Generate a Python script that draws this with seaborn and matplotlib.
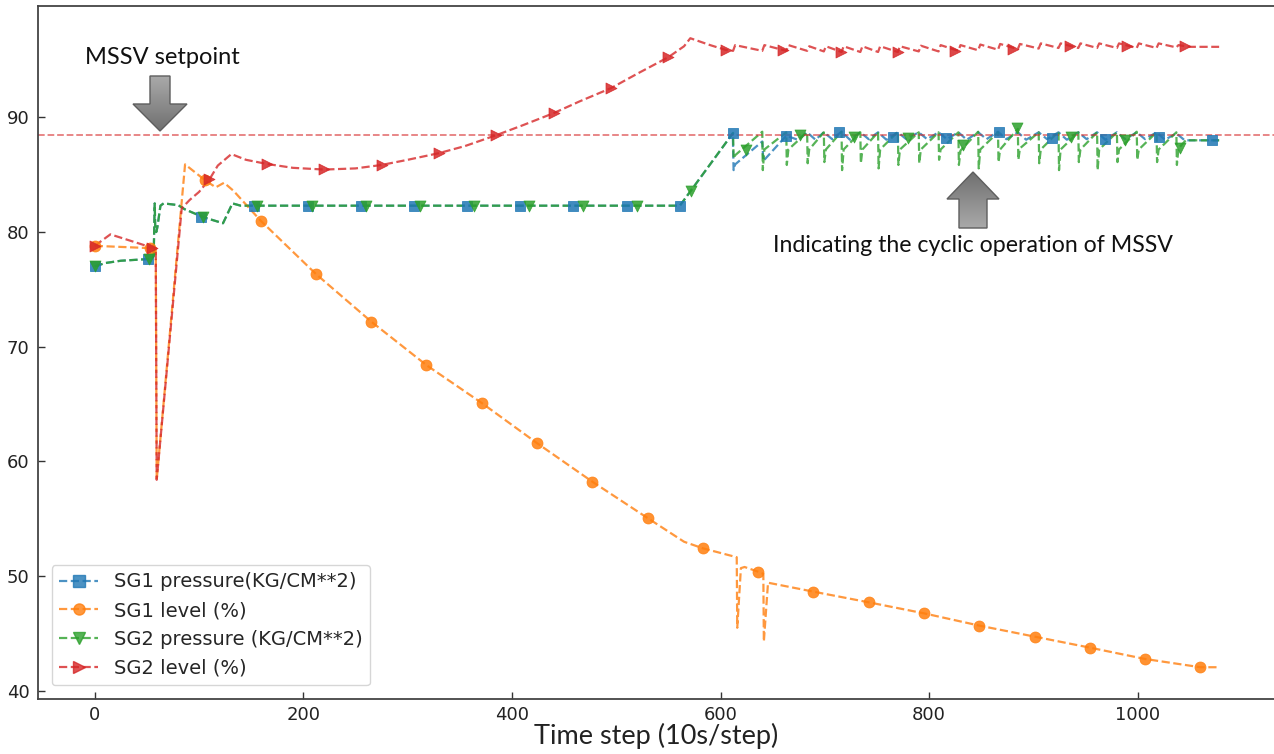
import numpy as np
import pandas as pd
import matplotlib
matplotlib.use("Agg")
import matplotlib.pyplot as plt
from matplotlib.lines import Line2D
from matplotlib.patches import Polygon
import seaborn as sns

# ---------------- data ----------------
# SG1 pressure (blue) line vertices
sg1p_x = [0, 10, 25, 52, 55, 56.5, 57.5, 58, 59, 60, 63, 66, 80, 86, 104, 123, 132, 140, 561,
          611.7, 612.5, 614, 640, 641, 663,
          674, 683, 691, 699, 707, 716, 724, 734, 742, 751, 759, 770, 778, 790, 798, 809, 817,
          828, 836, 847, 855, 866, 874, 885, 893, 905, 913, 924, 932, 943, 951, 961, 969, 980,
          988, 999, 1007, 1018, 1026, 1037, 1045, 1078]
sg1p_y = [77.0, 77.3, 77.5, 77.65, 77.7, 77.9, 82.5, 80.4, 80.0, 80.4, 82.3, 82.5, 82.35, 82.0, 81.3, 80.77, 82.5, 82.3, 82.3,
          88.6, 85.4, 85.9, 87.9, 86.2, 88.4,
          88.05, 88.7, 88.05, 88.7, 88.1, 88.75, 88.05, 88.7, 88.1, 88.7, 88.05, 88.7, 88.1, 88.7, 88.1, 88.7, 88.1,
          88.7, 88.05, 88.7, 88.1, 88.75, 88.1, 88.7, 88.05, 88.7, 88.1, 88.7, 88.05, 88.7, 88.1, 88.7, 88.05, 88.7,
          88.1, 88.7, 88.1, 88.7, 88.05, 88.6, 88.0, 88.0]
sg1p_mx = [0, 51, 102, 153, 204, 255, 306, 357, 408, 459, 510, 561, 612, 663, 714, 765, 816, 867, 918, 969, 1020, 1071]
sg1p_my = [77.0, 77.63, 81.3, 82.3, 82.3, 82.3, 82.3, 82.3, 82.3, 82.3, 82.3, 82.3,
           88.6, 88.4, 88.75, 88.32, 88.17, 88.75, 88.18, 88.1, 88.32, 88.03]

# SG1 level (orange)
sg1l_x = [0, 53, 58.5, 59.4, 86.6, 106, 116, 124, 133, 159, 212, 265, 318, 371, 424, 477, 530, 565, 583,
          615.5, 616, 619.5, 623, 636, 641, 641.5, 645.5, 689, 742, 795, 848, 901, 954, 1007, 1060, 1077]
sg1l_y = [78.8, 78.6, 78.5, 58.4, 85.9, 84.5, 83.9, 84.3, 83.6, 81.0, 76.35, 72.2, 68.4, 65.1, 61.6, 58.24, 55.07, 53.0, 52.43,
          51.65, 45.5, 50.7, 50.8, 50.39, 50.2, 44.3, 49.43, 48.65, 47.72, 46.76, 45.69, 44.73, 43.77, 42.78, 42.06, 42.06]
sg1l_mx = [0, 53, 106, 159, 212, 265, 318, 371, 424, 477, 530, 583, 636, 689, 742, 795, 848, 901, 954, 1007, 1060]
sg1l_my = [78.8, 78.6, 84.5, 81.0, 76.35, 72.2, 68.4, 65.1, 61.6, 58.24, 55.07, 52.43, 50.39, 48.65, 47.72, 46.76,
           45.69, 44.73, 43.77, 42.78, 42.06]

# SG2 pressure (green)
sg2p_x = [0, 10, 25, 52, 55, 56.5, 57.5, 58, 59, 60, 63, 66, 80, 86, 104, 123, 132, 140, 561,
          612, 612.5, 614, 640, 640.5, 642, 663, 663.5, 665, 683, 683.5, 685, 699, 699.5, 701,
          716, 716.5, 718, 734, 734.5, 736, 751, 751.5, 753, 770, 770.5, 772, 790, 790.5, 792,
          809, 809.5, 811, 828, 828.5, 830, 847, 847.5, 849, 866, 866.5, 868, 885, 885.5, 887,
          905, 905.5, 907, 924, 924.5, 926, 943, 943.5, 945, 961, 961.5, 963, 980, 980.5, 982,
          999, 999.5, 1001, 1018, 1018.5, 1020, 1037, 1037.5, 1039, 1046, 1078]
sg2p_y = [77.0, 77.3, 77.5, 77.65, 77.7, 77.9, 82.5, 80.4, 80.0, 80.4, 82.3, 82.5, 82.35, 82.0, 81.3, 80.77, 82.5, 82.3, 82.3,
          88.65, 86.4, 86.7, 88.75, 85.4, 87.2, 88.7, 85.85, 87.2, 88.7, 86.0, 87.2, 88.7, 86.1, 87.2,
          88.75, 85.4, 87.2, 88.7, 86.0, 87.2, 88.7, 85.55, 87.2, 88.75, 85.85, 87.2, 88.7, 86.0, 87.2,
          88.7, 86.3, 87.2, 88.7, 85.85, 87.1, 88.75, 85.55, 87.2, 88.7, 86.1, 87.2, 89.0, 86.3, 87.3,
          88.7, 86.0, 87.2, 88.75, 85.4, 87.2, 88.7, 86.1, 87.2, 88.7, 85.4, 87.2, 88.7, 86.1, 87.2,
          88.75, 86.3, 87.2, 88.7, 86.1, 87.2, 88.7, 85.85, 87.3, 88.0, 88.0]
sg2p_mx = [0, 52, 104, 156, 208, 260, 312, 364, 416, 468, 520, 572, 624, 676, 728, 780, 832, 884, 936, 988, 1040]
sg2p_my = [77.0, 77.65, 81.3, 82.3, 82.3, 82.3, 82.3, 82.3, 82.3, 82.3, 82.3, 83.6, 87.15, 88.5, 88.3, 88.18,
           87.6, 89.05, 88.3, 88.03, 87.3]

# SG2 level (red)
sg2l_x = [0, 15, 55, 58.5, 59.4, 83.4, 91, 100, 110, 118, 131, 145, 165, 190, 220, 250, 275, 300, 330, 355,
          385, 410, 440, 465, 495, 520, 550, 565, 571, 590, 605,
          612, 614, 640, 642, 663, 665, 683, 685, 699, 701, 716, 718, 734, 736, 751, 753, 770, 772,
          790, 792, 809, 811, 828, 830, 847, 849, 866, 868, 885, 887, 905, 907, 924, 926, 943, 945,
          961, 963, 980, 982, 999, 1001, 1018, 1020, 1037, 1039, 1050, 1078]
sg2l_y = [78.8, 79.8, 78.64, 78.6, 58.4, 82.07, 82.8, 83.5, 84.6, 85.8, 86.8, 86.3, 85.94, 85.6, 85.45, 85.55, 85.85, 86.3, 86.88, 87.5,
          88.45, 89.3, 90.37, 91.4, 92.55, 93.8, 95.25, 96.2, 96.9, 96.3, 95.88,
          95.8, 96.3, 95.8, 96.3, 95.8, 96.3, 95.8, 96.2, 95.75, 96.2, 95.7, 96.2, 95.7, 96.2, 95.7, 96.2, 95.7, 96.2,
          95.75, 96.25, 95.75, 96.3, 95.8, 96.3, 95.85, 96.35, 95.9, 96.4, 95.95, 96.4, 96.0, 96.45, 96.05, 96.45, 96.05, 96.45,
          96.05, 96.45, 96.05, 96.45, 96.05, 96.45, 96.05, 96.45, 96.1, 96.3, 96.15, 96.15]
sg2l_mx = [0, 55, 110, 165, 220, 275, 330, 385, 440, 495, 550, 605, 660, 715, 770, 825, 880, 935, 990, 1045]
sg2l_my = [78.8, 78.64, 84.6, 85.94, 85.47, 85.85, 86.88, 88.45, 90.37, 92.55, 95.25, 95.88, 95.9, 95.73,
           95.73, 95.75, 96.0, 96.2, 96.2, 96.2]

setpoint = 88.5
x_ticks = [0, 200, 400, 600, 800, 1000]
y_ticks = [40, 50, 60, 70, 80, 90]
labels = ["SG1 pressure(KG/CM**2)", "SG1 level (%)", "SG2 pressure (KG/CM**2)", "SG2 level (%)"]
colors = ["#1f77b4", "#ff7f0e", "#2ca02c", "#d62728"]
markers = ["s", "o", "v", ">"]

# ---------------- style ----------------
sns.set_theme(style="white")
plt.rcParams["font.family"] = ["DejaVu Sans"]

W, H = 1274, 754
fig = plt.figure(figsize=(W / 100, H / 100), dpi=100)
ax = fig.add_axes([38 / W, 55 / H, 1 - 38 / W, 693 / H])

series = [(sg1p_x, sg1p_y, sg1p_mx, sg1p_my),
          (sg1l_x, sg1l_y, sg1l_mx, sg1l_my),
          (sg2p_x, sg2p_y, sg2p_mx, sg2p_my),
          (sg2l_x, sg2l_y, sg2l_mx, sg2l_my)]

for (lx, ly, mx, my), c, m in zip(series, colors, markers):
    sns.lineplot(x=lx, y=ly, sort=False, estimator=None, ax=ax, color=c,
                 linestyle="--", linewidth=1.6, alpha=0.8, legend=False)
    sns.scatterplot(x=mx, y=my, ax=ax, color=c, marker=m, s=62, alpha=0.85,
                    edgecolor=c, linewidth=0.6, legend=False, zorder=3)

ax.axhline(setpoint, color="#d62728", linestyle="--", linewidth=1.3, alpha=0.6)

ax.set_xlim(-54.4, 1130.6)
ax.set_ylim(39.29, 99.71)
ax.set_xticks(x_ticks)
ax.set_yticks(y_ticks)
ax.tick_params(axis="both", which="major", direction="in", length=5, width=1.0,
               color="#333333", labelsize=13, bottom=True, left=True, pad=6,
               labelcolor="#222222")
ax.tick_params(axis="x", pad=5)
for side in ["left", "top", "bottom"]:
    ax.spines[side].set_color("#444444")
    ax.spines[side].set_linewidth(1.3)
ax.spines["right"].set_visible(False)
ax.set_xlabel("Time step (10s/step)", fontsize=19.5, family=["Lato", "DejaVu Sans"],
              color="#222222", labelpad=-1)
ax.set_ylabel("")

handles = [Line2D([], [], color=c, linestyle="--", marker=m, markersize=8, linewidth=1.6, alpha=0.8)
           for c, m in zip(colors, markers)]
leg = ax.legend(handles, labels, loc="lower left", fontsize=14, frameon=True,
                handlelength=2.0, borderaxespad=0.7)
leg.get_frame().set_edgecolor("#cccccc")

# ---------------- annotations (overlay in pixel coordinates) ----------------
ov = fig.add_axes([0, 0, 1, 1], zorder=5)
ov.set_xlim(0, W)
ov.set_ylim(H, 0)
ov.axis("off")
ov.patch.set_alpha(0)

def block_arrow(cx, shaft_hw, head_hw, y_tail, y_neck, y_tip):
    pts = [(cx - shaft_hw, y_tail), (cx + shaft_hw, y_tail), (cx + shaft_hw, y_neck),
           (cx + head_hw, y_neck), (cx, y_tip), (cx - head_hw, y_neck), (cx - shaft_hw, y_neck)]
    poly = Polygon(pts, closed=True, facecolor="none", edgecolor="#5e5e5e", linewidth=1.0, zorder=6)
    ov.add_patch(poly)
    grad = np.linspace(0, 1, 64).reshape(-1, 1)
    y0, y1 = min(y_tail, y_tip), max(y_tail, y_tip)
    if y_tip > y_tail:
        cmap = matplotlib.colors.LinearSegmentedColormap.from_list("g", ["#a9a9a9", "#707070"])
    else:
        cmap = matplotlib.colors.LinearSegmentedColormap.from_list("g", ["#707070", "#a9a9a9"])
    im = ov.imshow(grad, cmap=cmap, extent=(cx - head_hw, cx + head_hw, y1, y0),
                   aspect="auto", zorder=5.5)
    im.set_clip_path(poly)
    ov.set_xlim(0, W)
    ov.set_ylim(H, 0)

block_arrow(160, 10, 27, 76, 104, 131)
block_arrow(973, 14, 26, 228, 199, 172)

ov.text(85, 57, "MSSV setpoint", fontsize=17, family=["Lato", "DejaVu Sans"],
        ha="left", va="center", color="#111111")
ov.text(773, 245, "Indicating the cyclic operation of MSSV", fontsize=16.7,
        family=["Lato", "DejaVu Sans"], ha="left", va="center", color="#111111")

fig.savefig("out.png", dpi=100)
